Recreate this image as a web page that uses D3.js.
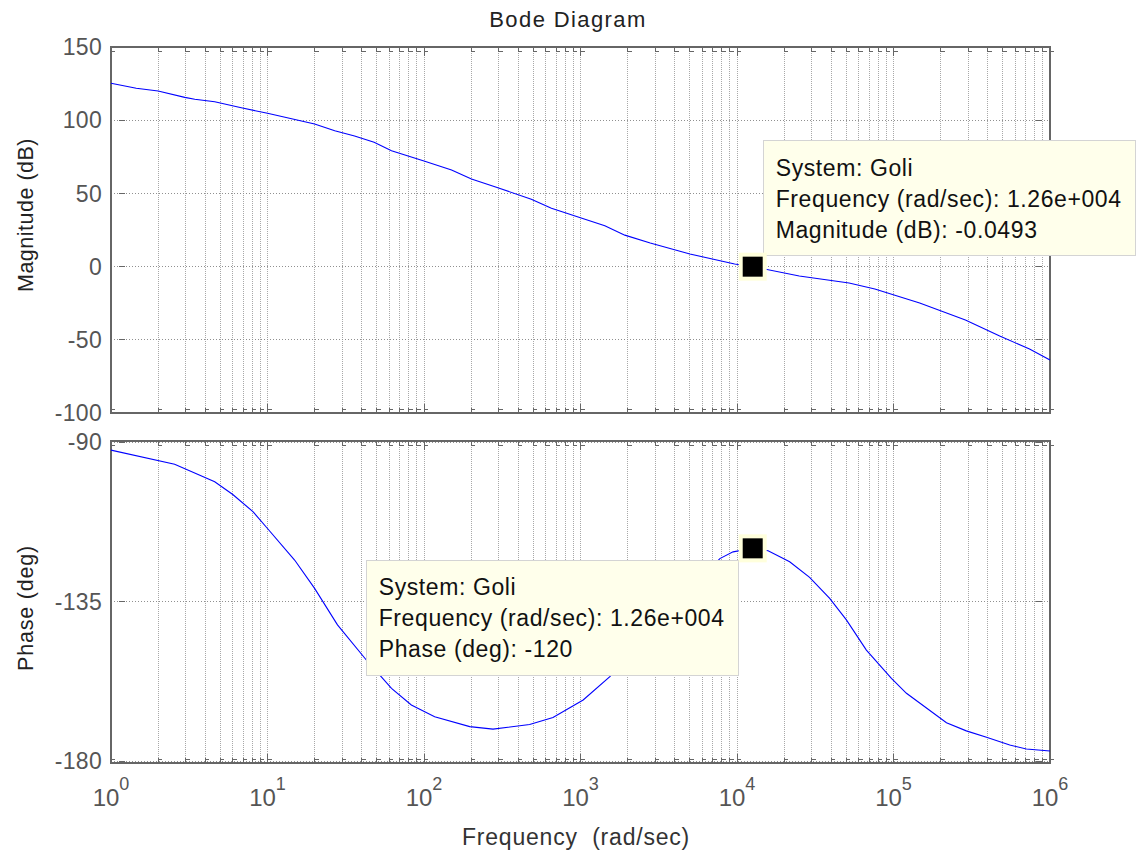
<!DOCTYPE html>
<html>
<head>
<meta charset="utf-8">
<script src="https://cdn.jsdelivr.net/npm/d3@7"></script>
<style>
  html, body { margin: 0; padding: 0; background: #ffffff; }
  svg { display: block; font-family: "Liberation Sans", Arial, Helvetica, sans-serif; }
</style>
</head>
<body>
<svg id="chart" width="1136" height="856"></svg>
<script>
// ---------------- data ----------------
const magFreq = [1, 1.45, 2, 2.96, 3.43, 4.6, 6.8, 10, 20, 26.9, 36, 48, 62, 100, 150, 201, 290, 485, 652, 1430, 1920, 2790, 5000, 9660, 12600, 25000, 52000, 76000, 147000, 288000, 477000, 740000, 1e6];
const magDb   = [125.2, 121.8, 119.9, 115.6, 114.3, 112.6, 108.5, 104.7, 97.4, 92.8, 89.2, 84.9, 79.2, 72.1, 66.0, 59.8, 54.2, 46.0, 39.8, 27.9, 21.5, 16.1, 8.6, 1.8, -0.0493, -6.4, -11.2, -15.3, -24.9, -36.5, -47.4, -56.3, -63.8];

const phFreq = [1, 2.55, 4.6, 6.0, 8.1, 10, 14.9, 20, 28, 42.8, 62, 83, 117, 196, 276, 473, 667, 1040, 1540, 2760, 4650, 7770, 9440, 12600, 15800, 21700, 29100, 39100, 50000, 67100, 97000, 121000, 218000, 292000, 393000, 553000, 706000, 1e6];
const phDeg  = [-92.3, -96.3, -101.2, -104.8, -109.7, -114.4, -123.3, -131.3, -141.6, -151.5, -159.5, -164.2, -167.5, -170.3, -171.0, -169.7, -167.7, -162.8, -156.2, -143.6, -133.2, -122.9, -121.0, -120, -120.7, -123.8, -128.2, -134.1, -140.2, -148.7, -156.7, -160.9, -169.2, -171.5, -173.3, -175.5, -176.6, -177.2];

const magTicks = [150, 100, 50, 0, -50, -100];
const phaseTicks = [-90, -135, -180];
const decadeExps = [0, 1, 2, 3, 4, 5, 6];

const tipFreq = 12600;
const tipMag = -0.0493;
const tipPhase = -120;
const magTipLines = ["System: Goli", "Frequency (rad/sec): 1.26e+004", "Magnitude (dB): -0.0493"];
const phTipLines  = ["System: Goli", "Frequency (rad/sec): 1.26e+004", "Phase (deg): -120"];

const titleText = "Bode Diagram";
const xLabelText = "Frequency  (rad/sec)";
const magLabelText = "Magnitude (dB)";
const phLabelText = "Phase (deg)";

// ---------------- layout ----------------
const L = 111, R = 1050;
const magTop = 47, magBot = 413;
const phTop = 441, phBot = 763;
const axisColor = "#666666";
const tickTextColor = "#555555";
const gridColor = "#a8a8a8";

const svg = d3.select("#chart");

const x = d3.scaleLog().domain([1, 1e6]).range([L, R]);
const yMag = d3.scaleLinear().domain([-100, 150]).range([magBot, magTop]);
const yPh = d3.scaleLinear().domain([-180, -90]).range([761, 442]);

// all log ticks (1..9 per decade)
const allXTicks = [];
for (let e = 0; e < 6; e++) {
  for (let m = 1; m <= 9; m++) allXTicks.push(m * Math.pow(10, e));
}
allXTicks.push(1e6);
const majorX = decadeExps.map(e => Math.pow(10, e));

function panel(top, bot, yScale, yTicks) {
  const g = svg.append("g");
  // vertical grid
  g.selectAll("line.vg").data(allXTicks.filter(v => v > 1 && v < 1e6)).enter()
    .append("line")
    .attr("x1", d => x(d)).attr("x2", d => x(d))
    .attr("y1", top).attr("y2", bot)
    .attr("stroke", gridColor).attr("stroke-width", 1)
    .attr("stroke-dasharray", "1,1")
    .attr("shape-rendering", "crispEdges");
  // horizontal grid
  g.selectAll("line.hg").data(yTicks).enter()
    .append("line")
    .attr("x1", L).attr("x2", R)
    .attr("y1", d => yScale(d)).attr("y2", d => yScale(d))
    .attr("stroke", "#909090").attr("stroke-width", 1)
    .attr("stroke-dasharray", "1,2")
    .attr("shape-rendering", "crispEdges");
  // x ticks top and bottom (inward)
  const tickG = g.append("g").attr("stroke", axisColor).attr("stroke-width", 1).attr("shape-rendering", "crispEdges");
  allXTicks.forEach(v => {
    const major = majorX.includes(v);
    const len = major ? 9 : 5;
    tickG.append("line").attr("x1", x(v)).attr("x2", x(v)).attr("y1", top).attr("y2", top + len);
    tickG.append("line").attr("x1", x(v)).attr("x2", x(v)).attr("y1", bot).attr("y2", bot - len);
    tickG.append("line").attr("x1", x(v)).attr("x2", x(v) + 4).attr("y1", top + 4).attr("y2", top + 4);
    tickG.append("line").attr("x1", x(v)).attr("x2", x(v) + 4).attr("y1", bot - 4).attr("y2", bot - 4);
  });
  // y ticks left and right
  yTicks.forEach(v => {
    tickG.append("line").attr("x1", L + 8).attr("x2", L + 14).attr("y1", yScale(v)).attr("y2", yScale(v));
    tickG.append("line").attr("x1", R - 14).attr("x2", R - 8).attr("y1", yScale(v)).attr("y2", yScale(v));
  });
  // box
  g.append("rect").attr("x", L).attr("y", top).attr("width", R - L).attr("height", bot - top)
    .attr("fill", "none").attr("stroke", axisColor).attr("stroke-width", 1.5)
    .attr("shape-rendering", "crispEdges");
  // y tick labels
  g.selectAll("text.yt").data(yTicks).enter()
    .append("text")
    .attr("x", L - 9).attr("y", d => yScale(d))
    .attr("dy", "0.36em")
    .attr("text-anchor", "end")
    .attr("font-size", 23)
    .attr("letter-spacing", 0.3)
    .attr("fill", tickTextColor)
    .text(d => d);
  return g;
}

panel(magTop, magBot, yMag, magTicks);
panel(phTop, phBot, yPh, phaseTicks);

// curves
const magLine = d3.line().x(d => x(d[0])).y(d => yMag(d[1]));
const phLine = d3.line().x(d => x(d[0])).y(d => yPh(d[1]));
svg.append("path").datum(magFreq.map((f, i) => [f, magDb[i]]))
  .attr("d", magLine).attr("fill", "none").attr("stroke", "#0000ff").attr("stroke-width", 1.1);
svg.append("path").datum(phFreq.map((f, i) => [f, phDeg[i]]))
  .attr("d", phLine).attr("fill", "none").attr("stroke", "#0000ff").attr("stroke-width", 1.1);

// x tick labels 10^n
const xt = svg.append("g");
decadeExps.forEach(e => {
  const t = xt.append("text")
    .attr("x", x(Math.pow(10, e))).attr("y", 806)
    .attr("text-anchor", "middle")
    .attr("font-size", 24)
    .attr("fill", tickTextColor);
  t.append("tspan").text("10");
  t.append("tspan").attr("dy", -16).attr("font-size", 18).text(e);
});

// titles / labels
svg.append("text").attr("x", 568).attr("y", 27).attr("text-anchor", "middle")
  .attr("font-size", 22).attr("letter-spacing", 1.4).attr("fill", "#222").text(titleText);
svg.append("text").attr("x", 576).attr("y", 845).attr("text-anchor", "middle")
  .attr("font-size", 23).attr("letter-spacing", 0.8).attr("fill", "#333")
  .style("white-space", "pre").text(xLabelText);
svg.append("text").attr("transform", "translate(33,215) rotate(-90)").attr("text-anchor", "middle")
  .attr("font-size", 21.5).attr("letter-spacing", 0.5).attr("fill", "#222").text(magLabelText);
svg.append("text").attr("transform", "translate(33,608) rotate(-90)").attr("text-anchor", "middle")
  .attr("font-size", 21.5).attr("letter-spacing", 0.8).attr("fill", "#222").text(phLabelText);

// data tips
function dataTip(px, py, bx, by, lines) {
  const g = svg.append("g");
  const bw = 372, bh = 115;
  g.append("rect").attr("x", bx).attr("y", by).attr("width", bw).attr("height", bh)
    .attr("fill", "#ffffeb").attr("stroke", "#d4d4d4").attr("stroke-width", 1.5)
    .attr("shape-rendering", "crispEdges");
  g.selectAll("text").data(lines).enter().append("text")
    .attr("x", bx + 12).attr("y", (d, i) => by + 35 + i * 31)
    .attr("font-size", 23).attr("letter-spacing", 0.6).attr("fill", "#111").text(d => d);
  // marker
  g.append("rect").attr("x", px - 14).attr("y", py - 14).attr("width", 28).attr("height", 28)
    .attr("fill", "#ffffdc");
  g.append("rect").attr("x", px - 10).attr("y", py - 10).attr("width", 20).attr("height", 20)
    .attr("fill", "#000");
}

const mx = x(tipFreq), myMag = yMag(tipMag), myPh = yPh(tipPhase);
dataTip(mx, myMag, mx + 11, myMag - 126, magTipLines);
dataTip(mx, myPh, mx - 386, myPh + 12, phTipLines);
</script>
</body>
</html>
